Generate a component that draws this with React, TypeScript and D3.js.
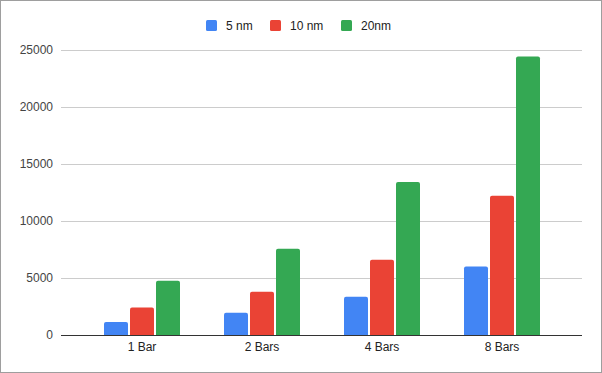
import {useRef, useEffect} from 'react'
import * as d3 from 'd3'

const categories = ["1 Bar", "2 Bars", "4 Bars", "8 Bars"]
const seriesNames = ["5 nm", "10 nm", "20nm"]
const seriesColors = ["#4285f4", "#ea4335", "#34a853"]
const values5nm = [1150, 1950, 3350, 6000]
const values10nm = [2400, 3800, 6600, 12200]
const values20nm = [4750, 7550, 13400, 24400]
const yTicks = [0, 5000, 10000, 15000, 20000, 25000]

export default function App() {
    const ref = useRef<SVGSVGElement>(null)

    const width = 602
    const height = 373
    const font = "Arial, 'Liberation Sans', sans-serif"

    useEffect(() => {
        document.body.style.margin = "0"
        const svg = d3.select(ref.current)
        svg.selectAll("*").remove()

        const series = [values5nm, values10nm, values20nm]

        const y = d3.scaleLinear().domain([0, 25000]).range([335, 49.7])
        const x = d3.scaleBand().domain(categories).range([82, 562])
            .paddingInner(44 / 120).paddingOuter(22 / 120)
        const xs = d3.scaleBand().domain(seriesNames).range([0, x.bandwidth()])
            .paddingInner(2 / 26).paddingOuter(0)

        // background + border
        svg.append("rect")
            .attr("x", 0.5).attr("y", 0.5)
            .attr("width", width - 1).attr("height", height - 1)
            .attr("fill", "white").attr("stroke", "#9e9e9e")

        // gridlines
        svg.append("g").selectAll("line")
            .data(yTicks.filter(t => t > 0))
            .join("line")
            .attr("x1", 61).attr("x2", 582)
            .attr("y1", d => Math.round(y(d)) + 0.5).attr("y2", d => Math.round(y(d)) + 0.5)
            .attr("stroke", "#cccccc")

        // y tick labels
        svg.append("g").selectAll("text")
            .data(yTicks)
            .join("text")
            .attr("x", 53).attr("y", d => y(d))
            .attr("dy", "0.35em")
            .attr("text-anchor", "end")
            .style("font-family", font).style("font-size", "12px")
            .attr("fill", "#444")
            .text(d => d)

        // bars, top corners rounded a little
        const r = 2
        const barPath = (x0: number, w: number, top: number, bottom: number) =>
            `M${x0},${bottom}V${top + r}Q${x0},${top} ${x0 + r},${top}H${x0 + w - r}Q${x0 + w},${top} ${x0 + w},${top + r}V${bottom}Z`

        series.forEach((vals, si) => {
            svg.append("g").selectAll("path")
                .data(vals)
                .join("path")
                .attr("d", (v, i) => barPath(
                    (x(categories[i]) as number) + (xs(seriesNames[si]) as number),
                    xs.bandwidth(), y(v), y(0)))
                .attr("fill", seriesColors[si])
        })

        // baseline
        svg.append("line")
            .attr("x1", 61).attr("x2", 582)
            .attr("y1", Math.round(y(0)) + 0.5).attr("y2", Math.round(y(0)) + 0.5)
            .attr("stroke", "#333")

        // x labels
        svg.append("g").selectAll("text")
            .data(categories)
            .join("text")
            .attr("x", d => (x(d) as number) + x.bandwidth() / 2)
            .attr("y", 351)
            .attr("text-anchor", "middle")
            .style("font-family", font).style("font-size", "12px")
            .attr("fill", "#222")
            .text(d => d)

        // legend
        const legendX = [206, 270, 341]
        const legend = svg.append("g").selectAll("g")
            .data(seriesNames)
            .join("g")
            .attr("transform", (d, i) => `translate(${legendX[i]},20)`)
        legend.append("rect")
            .attr("width", 11).attr("height", 11).attr("rx", 1.5)
            .attr("fill", (d, i) => seriesColors[i])
        legend.append("text")
            .attr("x", 20).attr("y", 5.5).attr("dy", "0.35em")
            .style("font-family", font).style("font-size", "12px")
            .attr("fill", "#222")
            .text(d => d)
    }, [])

    return (
        <div style={{position: "fixed", left: 0, top: 0}}>
            <svg ref={ref} width={width} height={height} style={{display: "block"}}></svg>
        </div>
    )
}
